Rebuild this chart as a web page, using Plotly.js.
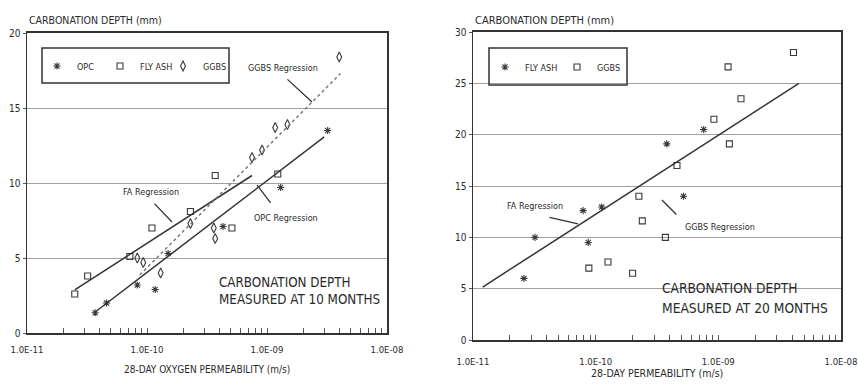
<!DOCTYPE html>
<html><head><meta charset="utf-8">
<script src="https://cdn.plot.ly/plotly-3.0.1.min.js"></script>
<style>html,body{margin:0;padding:0;background:#fff}#chart{width:858px;height:385px}</style>
</head><body><div id="chart"></div>
<script>
// ---------- Left panel: measured at 10 months ----------
const opcPerm   = [3.7e-11, 4.6e-11, 8.3e-11, 1.17e-10, 1.5e-10, 4.3e-10, 1.3e-9, 3.2e-9];
const opcDepth  = [1.35, 2.0, 3.2, 2.9, 5.3, 7.1, 9.7, 13.5];
const faPerm    = [2.5e-11, 3.2e-11, 7.2e-11, 1.1e-10, 2.3e-10, 3.7e-10, 5.1e-10, 1.23e-9];
const faDepth   = [2.6, 3.8, 5.1, 7.0, 8.1, 10.5, 7.0, 10.6];
const ggbsPerm  = [8.3e-11, 9.3e-11, 1.3e-10, 2.3e-10, 3.7e-10, 3.6e-10, 7.5e-10, 9.1e-10, 1.17e-9, 1.48e-9, 4.0e-9];
const ggbsDepth = [5.0, 4.7, 4.0, 7.3, 6.3, 7.0, 11.7, 12.2, 13.7, 13.9, 18.4];
const opcRegPerm  = [3.7e-11, 3.0e-9];  const opcRegDepth  = [1.4, 13.07];
const faRegPerm   = [2.5e-11, 7.5e-10]; const faRegDepth   = [2.87, 10.5];
const ggbsRegPerm = [8.7e-11, 4.1e-9];  const ggbsRegDepth = [3.87, 17.3];

// ---------- Right panel: measured at 20 months ----------
const fa2Perm    = [7.6e-10, 3.8e-10, 5.2e-10, 7.9e-11, 1.12e-10, 3.2e-11, 8.7e-11, 2.6e-11];
const fa2Depth   = [20.5, 19.1, 14.0, 12.6, 12.95, 10.0, 9.5, 6.0];
const ggbs2Perm  = [4.1e-9, 1.2e-9, 1.53e-9, 9.2e-10, 1.23e-9, 4.6e-10, 2.25e-10, 2.4e-10, 3.7e-10, 8.8e-11, 1.26e-10, 2.0e-10];
const ggbs2Depth = [28.0, 26.6, 23.5, 21.5, 19.1, 17.0, 14.0, 11.6, 10.0, 7.0, 7.6, 6.5];
const reg2Perm   = [1.2e-11, 4.54e-9]; const reg2Depth = [5.16, 25.0];

// ---------- Tick labels ----------
const decadeVals   = [1e-11, 1e-10, 1e-9, 1e-8];
const decadeLabels = ['1.0E-11', '1.0E-10', '1.0E-09', '1.0E-08'];

const tickVals = [], tickText = [];
decadeVals.forEach((d, i) => {
  const maxM = i < decadeVals.length - 1 ? 9 : 1;
  for (let m = 1; m <= maxM; m++) {
    tickVals.push(d * m);
    tickText.push(m === 1 ? decadeLabels[i] : '');
  }
});

const W = 858, H = 385;
const px = v => v / W, py = v => 1 - v / H;
const FONT = 'DejaVu Sans Condensed, DejaVu Sans, sans-serif';
const INK = '#2a2a2a';
const mk = (sym, size) => ({symbol: sym, size: size, color: '#3a3a3a', line: {color: '#3a3a3a', width: 1.1}});

const traces = [
  {x: opcPerm, y: opcDepth, mode: 'markers', name: 'OPC', marker: mk('asterisk-open', 6), xaxis: 'x', yaxis: 'y', legend: 'legend'},
  {x: faPerm, y: faDepth, mode: 'markers', name: 'FLY ASH', marker: mk('square-open', 6), xaxis: 'x', yaxis: 'y', legend: 'legend'},
  {x: ggbsPerm, y: ggbsDepth, mode: 'markers', name: 'GGBS', marker: mk('diamond-tall-open', 7), xaxis: 'x', yaxis: 'y', legend: 'legend'},
  {x: opcRegPerm, y: opcRegDepth, mode: 'lines', line: {color: '#333', width: 1.5}, showlegend: false, xaxis: 'x', yaxis: 'y'},
  {x: faRegPerm, y: faRegDepth, mode: 'lines', line: {color: '#333', width: 1.5}, showlegend: false, xaxis: 'x', yaxis: 'y'},
  {x: ggbsRegPerm, y: ggbsRegDepth, mode: 'lines', line: {color: '#777', width: 1.5, dash: 'dot'}, showlegend: false, xaxis: 'x', yaxis: 'y'},

  {x: fa2Perm, y: fa2Depth, mode: 'markers', name: 'FLY ASH', marker: mk('asterisk-open', 6), xaxis: 'x2', yaxis: 'y2', legend: 'legend2'},
  {x: ggbs2Perm, y: ggbs2Depth, mode: 'markers', name: 'GGBS', marker: mk('square-open', 6), xaxis: 'x2', yaxis: 'y2', legend: 'legend2'},
  {x: reg2Perm, y: reg2Depth, mode: 'lines', line: {color: '#333', width: 1.5}, showlegend: false, xaxis: 'x2', yaxis: 'y2'}
];

function xAx(d0, d1, standoff) {
  return {
    type: 'log', range: [-11, -8], domain: [px(d0), px(d1)],
    tickvals: tickVals, ticktext: tickText, ticks: 'inside', ticklen: 5, tickcolor: '#555',
    ticklabelstandoff: standoff,
    tickfont: {family: FONT, size: 9.5, color: INK},
    showgrid: false, zeroline: false, showline: true, linewidth: 2, linecolor: '#333', mirror: true,
    fixedrange: true
  };
}
function yAx(top, bottom, maxV, anchor) {
  return {
    range: [0, maxV], dtick: 5, domain: [py(bottom), py(top)], anchor: anchor,
    ticks: 'outside', ticklen: 3, tickcolor: '#555',
    tickfont: {family: FONT, size: 10, color: INK},
    showgrid: true, gridcolor: '#a0a0a0', gridwidth: 1,
    zeroline: false, showline: true, linewidth: 1.5, linecolor: '#333', mirror: true,
    fixedrange: true
  };
}

const txt = (x, y, text, size, xanchor) => ({
  xref: 'paper', yref: 'paper', x: px(x), y: py(y), text: text, showarrow: false,
  xanchor: xanchor || 'center', yanchor: 'middle', font: {family: FONT, size: size, color: INK}
});
const lead = (xr, yr, lx, ly, ax, ay) => ({
  xref: xr, yref: yr, x: Math.log10(lx), y: ly, ax: ax, ay: ay, text: ' ',
  showarrow: true, arrowhead: 0, arrowwidth: 1.3, arrowcolor: '#333', standoff: 0, startstandoff: 0,
  font: {size: 1}
});

const annotations = [
  txt(27, 20, 'CARBONATION DEPTH (mm)', 10.5, 'left'),
  txt(473, 20, 'CARBONATION DEPTH (mm)', 11, 'left'),
  txt(207, 369, '28-DAY OXYGEN PERMEABILITY (m/s)', 10),
  txt(657, 373, '28-DAY PERMEABILITY (m/s)', 10.5),
  txt(283, 68, 'GGBS Regression', 9),
  txt(151, 192, 'FA Regression', 9),
  txt(286, 218, 'OPC Regression', 9),
  txt(535, 206, 'FA Regression', 9),
  txt(720, 227, 'GGBS Regression', 9),
  txt(217, 282, 'CARBONATION DEPTH', 13.3, 'left'),
  txt(217, 299, 'MEASURED AT 10 MONTHS', 13.3, 'left'),
  txt(660, 288, 'CARBONATION DEPTH', 13.7, 'left'),
  txt(660, 308, 'MEASURED AT 20 MONTHS', 13.7, 'left'),
  lead('x', 'y', 2.37e-9, 15.4, -26, -24),
  lead('x', 'y', 1.615e-10, 7.4, -19, -20),
  lead('x', 'y', 8.26e-10, 9.87, 15, 20),
  lead('x2', 'y2', 7.18e-11, 11.3, -30, -7),
  lead('x2', 'y2', 3.47e-10, 13.63, 16, 16)
];

const shapes = [
  {type: 'rect', xref: 'paper', yref: 'paper', x0: px(42), x1: px(229), y0: py(83), y1: py(48), line: {color: '#333', width: 1.5}},
  {type: 'rect', xref: 'paper', yref: 'paper', x0: px(489), x1: px(627), y0: py(85), y1: py(48), line: {color: '#333', width: 1.5}}
];

const legStyle = (x, y, ew) => ({
  x: px(x), y: py(y), xanchor: 'left', yanchor: 'middle', orientation: 'h',
  bgcolor: 'rgba(0,0,0,0)', borderwidth: 0, itemwidth: 30,
  entrywidth: ew, entrywidthmode: 'pixels',
  font: {family: FONT, size: 9, color: INK}
});

const layout = {
  width: W, height: H, margin: {l: 0, r: 0, t: 0, b: 0},
  paper_bgcolor: '#fff', plot_bgcolor: '#fff', showlegend: true,
  xaxis: xAx(27, 387, 7),
  yaxis: yAx(33, 333, 20, 'x'),
  xaxis2: Object.assign(xAx(473, 841, 12), {anchor: 'y2'}),
  yaxis2: yAx(32, 340, 30, 'x2'),
  legend: legStyle(37, 66, 18),
  legend2: legStyle(485, 67, 27),
  annotations: annotations,
  shapes: shapes
};
layout.xaxis.anchor = 'y';

Plotly.newPlot('chart', traces, layout, {staticPlot: true, displayModeBar: false});
</script>
</body></html>
